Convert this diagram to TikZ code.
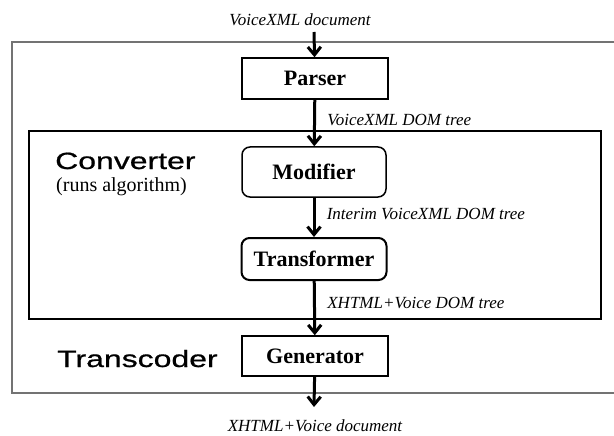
\documentclass[tikz,border=0pt]{standalone}
\usepackage{fontspec}
\setmainfont{Liberation Serif}
\newfontfamily\headfont[FakeStretch=1.36, FakeBold=0.8]{Liberation Sans}
\usetikzlibrary{arrows.meta, positioning}
\tikzset{
    stage/.style={draw=black, line width=1.5pt, minimum width=146pt, minimum height=41pt, inner sep=2pt, font=\fontsize{22}{24}\selectfont\bfseries},
    rstage/.style={stage, rounded corners=8pt},
    flow/.style={-{Straight Barb[length=8pt,width=13pt,line width=3pt]}, line width=3pt, black},
    dom/.style={font=\fontsize{17}{19}\selectfont\itshape, anchor=west, xshift=8pt},
    doc/.style={font=\fontsize{17}{19}\selectfont\itshape, inner sep=1pt},
    head/.style={font=\headfont\fontsize{23.5}{25}\selectfont, anchor=base west, inner sep=0pt},
    frame/.style={line width=1.6pt}
}

\begin{document}
\begin{tikzpicture}[x=1pt, y=-1pt]
        \useasboundingbox (0,0) rectangle (614,436);
        % Transcoder and Converter frames
        \draw[frame, black!55] (12,42) rectangle (630,393);
        \draw[frame, black] (29,131) rectangle (601,319);
        \node[head] (transcoder) at (57,367) {Transcoder};
        \node[head] (converter) at (55,169) {Converter};
        \node[anchor=base west, inner sep=0pt, font=\fontsize{20}{22}\selectfont] (runs) at (56,191) {(runs algorithm)};
        % stages
        \node[stage] (parser) at (315,78.5) {Parser};
        \node[rstage, minimum height=50pt, minimum width=144pt] (modifier) at (314,172) {Modifier};
        \node[rstage, minimum height=42pt, minimum width=145pt, line width=2pt] (transformer) at (314,259) {Transformer};
        \node[stage, minimum height=40pt] (generator) at (315,356) {Generator};
        % documents in and out
        \node[doc] (vxmldoc) at (300,20) {VoiceXML document};
        \node[doc] (xhtmldoc) at (315,426) {XHTML+Voice document};
        \coordinate (docin) at (314,32);
        \coordinate (docout) at (314,407);
        \draw[flow] (docin) -- (parser);
        \draw[flow] (parser) -- node[dom, yshift=3pt] {VoiceXML DOM tree} (modifier);
        \draw[flow] (modifier) -- node[dom, yshift=3pt] {Interim VoiceXML DOM tree} (transformer);
        \draw[flow] (transformer) -- node[dom, yshift=5pt] {XHTML+Voice DOM tree} (generator);
        \draw[flow] (generator) -- (docout);
    \end{tikzpicture}
\end{document}
